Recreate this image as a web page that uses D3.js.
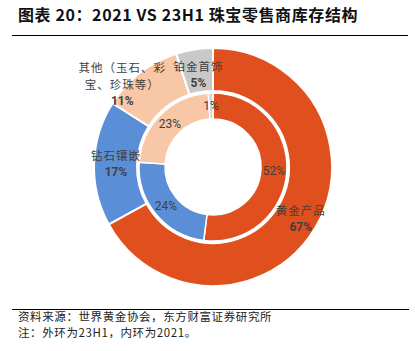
<!DOCTYPE html>
<html><head><meta charset="utf-8">
<script src="https://cdn.jsdelivr.net/npm/d3@7"></script>
<style>
html,body{margin:0;padding:0;background:#fff;}
svg{display:block;}
</style></head>
<body>
<svg id="chart" width="415" height="351"></svg>
<script>
const categories = ["黄金产品", "钻石镶嵌", "其他（玉石、彩宝、珍珠等）", "铂金首饰"];
const outerValues = [67, 17, 11, 5];   // 23H1
const innerValues = [52, 24, 23, 1];   // 2021
const outerColors = ["#DF501E", "#5A8FD7", "#F8C7A6", "#C9C9C9"];
const innerColors = ["#DF501E", "#5A8FD7", "#F8C7A6", "#CDD6E0"];
const titleText = "图表 20：2021 VS 23H1 珠宝零售商库存结构";
const sourceText = "资料来源：世界黄金协会，东方财富证券研究所";
const noteText = "注：外环为23H1，内环为2021。";

const svg = d3.select("#chart");
const cx = 213, cy = 167;

// title
svg.append("text").attr("x", 18).attr("y", 21)
  .attr("font-family", "'Noto Sans CJK SC', sans-serif")
  .attr("font-size", 16).attr("font-weight", "bold").attr("fill", "#111")
  .attr("letter-spacing", 0.6)
  .text(titleText);
svg.append("line").attr("x1", 12).attr("x2", 408).attr("y1", 35.5).attr("y2", 35.5)
  .attr("stroke", "#000").attr("stroke-width", 1);

const pie = d3.pie().sort(null).value(d => d);
const g = svg.append("g").attr("transform", `translate(${cx},${cy})`);

const outerArc = d3.arc().innerRadius(76).outerRadius(119);
const innerArc = d3.arc().innerRadius(48).outerRadius(74);

g.selectAll("path.outer").data(pie(outerValues)).enter().append("path")
  .attr("class", "outer").attr("d", outerArc)
  .attr("fill", (d, i) => outerColors[i])
  .attr("stroke", "#fff").attr("stroke-width", 2);
g.selectAll("path.inner").data(pie(innerValues)).enter().append("path")
  .attr("class", "inner").attr("d", innerArc)
  .attr("fill", (d, i) => innerColors[i])
  .attr("stroke", "#fff").attr("stroke-width", 1.5);

// inner labels
const innerLabelArc = d3.arc().innerRadius(61).outerRadius(61);
g.selectAll("text.inner").data(pie(innerValues)).enter().append("text")
  .attr("class", "inner")
  .attr("transform", d => { const c = innerLabelArc.centroid(d); return `translate(${c[0]},${c[1] + 4})`; })
  .attr("text-anchor", "middle")
  .attr("font-family", "Roboto, 'Noto Sans', sans-serif")
  .attr("font-size", 12).attr("fill", "#404040")
  .text(d => d.data + "%");

// outer labels
const labelRadii = [102, 97, 122, 93];
const labelShift = [[0, 0], [0, 0], [-16, 14], [0, 0]];
const labelLines = [["黄金产品"], ["钻石镶嵌"], ["其他（玉石、彩", "宝、珍珠等）"], ["铂金首饰"]];
pie(outerValues).forEach((d, i) => {
  const a = d3.arc().innerRadius(labelRadii[i]).outerRadius(labelRadii[i]);
  let [x, y] = a.centroid(d);
  x += labelShift[i][0]; y += labelShift[i][1];
  const lines = labelLines[i];
  const n = lines.length + 1;
  const lh = 16.5;
  const y0 = y - (n - 1) * lh / 2;
  const t = g.append("text").attr("text-anchor", "middle")
    .attr("font-family", "'Noto Sans CJK SC', sans-serif")
    .attr("font-size", 11.5).attr("fill", "#404040");
  lines.forEach((ln, k) => {
    t.append("tspan").attr("x", x).attr("y", y0 + k * lh + 4).attr("letter-spacing", 1).text(ln);
  });
  t.append("tspan").attr("x", x).attr("y", y0 + lines.length * lh + 4)
    .attr("font-family", "Roboto, 'Noto Sans', sans-serif")
    .attr("font-weight", "bold").attr("font-size", 12)
    .text(d.data + "%");
});

// footer
svg.append("line").attr("x1", 12).attr("x2", 409).attr("y1", 309.5).attr("y2", 309.5)
  .attr("stroke", "#000").attr("stroke-width", 1);
svg.append("text").attr("x", 18).attr("y", 321)
  .attr("font-family", "'Noto Sans CJK SC', sans-serif")
  .attr("font-size", 11.5).attr("fill", "#222").attr("letter-spacing", 0.6)
  .text(sourceText);
svg.append("text").attr("x", 18).attr("y", 337)
  .attr("font-family", "'Noto Sans CJK SC', sans-serif")
  .attr("font-size", 11.5).attr("fill", "#222").attr("letter-spacing", 0.6)
  .text(noteText);
</script>
</body></html>
